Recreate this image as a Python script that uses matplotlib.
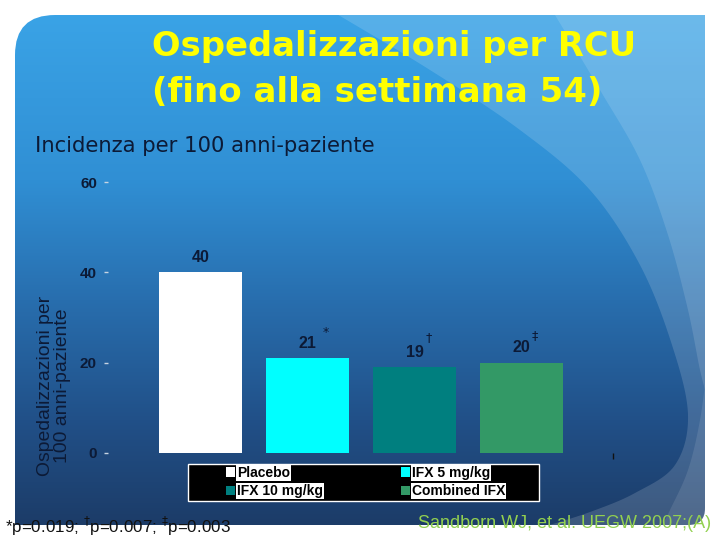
import matplotlib
matplotlib.use('Agg')
import matplotlib.pyplot as plt
import numpy as np
from matplotlib.path import Path
from matplotlib.patches import PathPatch, Polygon, Rectangle

# ---- data ----
categories = ['Placebo', 'IFX 5 mg/kg', 'IFX 10 mg/kg', 'Combined IFX']
values = [40, 21, 19, 20]
sig_marks = ['', '*', '\u2020', '\u2021']
yticks = [0, 20, 40, 60]
bar_colors = ['#ffffff', '#00ffff', '#007f7f', '#339966']

title_lines = ['Ospedalizzazioni per RCU', '(fino alla settimana 54)']
subtitle = 'Incidenza per 100 anni-paziente'
ylabel = 'Ospedalizzazioni per\n100 anni-paziente'
footnote = '*p=0.019; $^{\\dagger}$p=0.007; $^{\\ddagger}$p=0.003'
citation = 'Sandborn WJ, et al. UEGW 2007;(A)'

SANS = 'Liberation Sans'
TAH = 'DejaVu Sans'
DARK = '#0c1a36'

W, H = 720, 540
fig = plt.figure(figsize=(7.2, 5.4), dpi=100)
fig.patch.set_facecolor('white')
renderer = fig.canvas.get_renderer()

bg = fig.add_axes([0, 0, 1, 1])
bg.axis('off')

# panel shape
M, L, C3, CL = Path.MOVETO, Path.LINETO, Path.CURVE3, Path.CLOSEPOLY
pverts = [(15, 525), (15, 55), (15, 15), (55, 15), (705, 15), (705, 508),
          (705, 525), (688, 525), (15, 525)]
pcodes = [M, L, C3, C3, L, L, C3, C3, CL]
panel = PathPatch(Path(pverts, pcodes), facecolor='none', edgecolor='none')
bg.add_patch(panel)

# vertical gradient
stops_y = [15, 180, 300, 420, 525]
stops_c = np.array([(58, 163, 230), (48, 143, 212), (40, 110, 174),
                    (33, 80, 136), (28, 60, 104)]) / 255.0
ys = np.linspace(15, 525, 300)
grad = np.stack([np.interp(ys, stops_y, stops_c[:, k]) for k in range(3)], axis=-1)
grad = grad[:, None, :]
im = bg.imshow(grad, extent=[15, 705, 525, 15], aspect='auto', interpolation='bilinear')
im.set_clip_path(panel)


def smooth(pts, n=20):
    p = np.array(pts, dtype=float)
    p = np.vstack([2 * p[0] - p[1], p, 2 * p[-1] - p[-2]])
    out = []
    for i in range(1, len(p) - 2):
        p0, p1, p2, p3 = p[i - 1], p[i], p[i + 1], p[i + 2]
        for t in np.linspace(0, 1, n, endpoint=False):
            out.append(0.5 * ((2 * p1) + (-p0 + p2) * t +
                              (2 * p0 - 5 * p1 + 4 * p2 - p3) * t ** 2 +
                              (-p0 + 3 * p1 - 3 * p2 + p3) * t ** 3))
    out.append(p[-2])
    return [tuple(q) for q in out]


def overlay(boundary, extra, alpha):
    poly = Polygon(smooth(boundary) + extra, closed=True, facecolor='white',
                   alpha=alpha, edgecolor='none')
    bg.add_patch(poly)
    poly.set_clip_path(panel)


overlay([(330, 10), (430, 70), (520, 130), (590, 190), (640, 265),
         (672, 345), (688, 415), (675, 465), (635, 493), (590, 512),
         (540, 528)],
        [(720, 545), (720, 0), (330, 0)], 0.15)
overlay([(552, 10), (600, 90), (640, 160), (668, 235), (688, 310),
         (700, 370), (708, 400)],
        [(720, 400), (720, 0), (552, 0)], 0.13)
overlay([(708, 360), (700, 420), (688, 470), (670, 510), (660, 530)],
        [(720, 545), (720, 360)], 0.10)

bg.set_xlim(0, W)
bg.set_ylim(H, 0)


def fit_width(t, width):
    bb = t.get_window_extent(renderer)
    t.set_fontsize(t.get_fontsize() * width / bb.width)


def fit_height(t, height):
    bb = t.get_window_extent(renderer)
    t.set_fontsize(t.get_fontsize() * height / bb.height)


# title
t1 = bg.text(152, 56, title_lines[0], color='#ffff00', fontweight='bold',
             family=TAH, fontsize=24, ha='left', va='baseline')
fit_width(t1, 484)
t2 = bg.text(152, 102, title_lines[1], color='#ffff00', fontweight='bold',
             family=TAH, fontsize=24, ha='left', va='baseline')
fit_width(t2, 450)

ts = bg.text(35, 146, subtitle, color=DARK, family=TAH, fontsize=14,
             ha='left', va='center')
fit_width(ts, 341)

ty = bg.text(54, 386, ylabel, color=DARK, family=SANS, fontsize=13,
             rotation=90, ha='center', va='center', multialignment='center',
             linespacing=0.95)
fit_height(ty, 180)

tf = bg.text(5, 526, footnote, color='#111111', family=SANS, fontsize=11,
             ha='left', va='center')
fit_width(tf, 226)
tc = bg.text(418, 524, citation, color='#92d050', family=SANS, fontsize=12,
             ha='left', va='center')
fit_width(tc, 294)

# legend box
bg.add_patch(Rectangle((188, 464), 351, 37, facecolor='black',
                       edgecolor='white', lw=1.0))

# ---- chart ----
x0, x1 = 108, 613
ybot, ytop = 453, 182
ax = fig.add_axes([x0 / W, 1 - ybot / H, (x1 - x0) / W, (ybot - ytop) / H])
ax.set_facecolor('none')
pos = np.arange(len(values))
spacing_px = 107.0
xmin = -(200.5 - x0) / spacing_px
xmax = (x1 - 200.5) / spacing_px
bars = ax.bar(pos, values, width=0.77, color=bar_colors, edgecolor='none')
ax.set_xlim(xmin, xmax)
ax.set_ylim(0, 60)
for s in ax.spines.values():
    s.set_visible(False)
ax.set_yticks(yticks)
ax.set_yticklabels([str(v) for v in yticks], fontweight='bold', family=SANS,
                   fontsize=11)
ax.tick_params(axis='y', length=3, width=1, color='#c8d4e2', pad=5,
               labelcolor=DARK)
ax.set_xticks([xmax - 0.002])
ax.set_xticklabels([''])
ax.tick_params(axis='x', length=4, width=1, color='#111111')

sup_off = {'*': (18, 26), '\u2020': (14, 30), '\u2021': (13, 27)}
for i, (v, m) in enumerate(zip(values, sig_marks)):
    ax.annotate(str(v), (pos[i], v), xytext=(0, 15), textcoords='offset pixels',
                ha='center', va='center', fontweight='bold', family=SANS,
                fontsize=11.5, color=DARK)
    if m:
        dx, dy = sup_off[m]
        ax.annotate(m, (pos[i], v), xytext=(dx, dy), textcoords='offset pixels',
                    ha='center', va='center', family=TAH, fontsize=9,
                    color=DARK)

order = [0, 2, 1, 3]
leg = ax.legend([bars[k] for k in order], [categories[k] for k in order],
                ncol=2, loc='upper left',
                bbox_to_anchor=(226 / W, 1 - 466 / H),
                bbox_transform=fig.transFigure, frameon=False, borderpad=0,
                borderaxespad=0, handlelength=0.65, handleheight=0.65,
                handletextpad=0.15, columnspacing=5.6, labelspacing=0.3,
                prop=dict(family=SANS, weight='bold', size=10))
for t in leg.get_texts():
    t.set_color('black')
    t.set_bbox(dict(facecolor='white', edgecolor='none', pad=0.8))

fig.savefig('out.png', dpi=100, facecolor='white')
